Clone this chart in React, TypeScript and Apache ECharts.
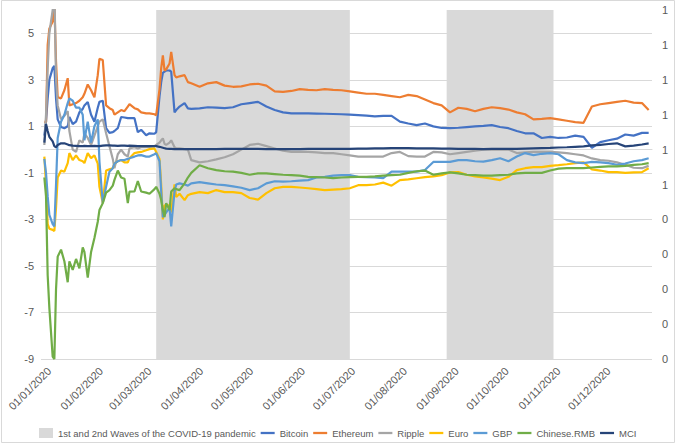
import React, { useEffect, useRef } from 'react';
import * as echarts from 'echarts';

// Day of year 2020 (0 = 1 Jan)
const days = [
  2, 3, 4, 5, 7, 8, 9, 10,
  12, 14, 16, 17, 19, 21, 23, 25, 26, 28,
  30, 32, 34, 35, 37, 39, 41, 43, 44, 46,
  48, 50, 52, 53, 56, 58, 60, 63, 65, 68,
  69, 71, 72, 73, 74, 75, 77, 78, 80, 81,
  83, 86, 88, 90,
  95, 100, 105, 110, 115, 120, 125, 130, 135, 140,
  145, 150, 155, 160, 165, 170, 175, 180, 185, 190,
  195, 200, 205, 210, 215, 220, 225, 230, 235, 240,
  245, 250, 255, 260, 265, 270, 275, 280, 285, 290,
  295, 300, 305, 310, 315, 320, 325, 330, 335, 340,
  345, 350, 355, 360, 364,
];

const bitcoin = [
  0.6, 1.2, 2.2, 3.0, 3.5, 3.6, 2.2, 1.3,
  0.97, 0.92, 1.0, 1.4, 1.1, 1.2, 1.6, 1.75, 1.9, 2.05,
  1.5, 1.2, 1.8, 2.05, 2.1, 0.92, 0.72, 0.75, 0.8, 0.92,
  1.4, 1.38, 1.35, 1.35, 1.35, 0.75, 0.85, 0.62, 0.7, 0.68,
  0.75, 2.3, 2.9, 3.3, 3.35, 3.4, 3.4, 3.35, 1.6, 1.7,
  1.85, 2.0, 1.77, 1.75,
  1.77, 1.82, 1.8, 1.78, 1.82, 1.95, 2.0, 2.05, 1.85, 1.7,
  1.6, 1.56, 1.56, 1.56, 1.55, 1.54, 1.53, 1.52, 1.5, 1.48,
  1.46, 1.43, 1.45, 1.45, 1.2, 1.12, 1.05, 1.12, 1.0, 0.93,
  0.92, 0.94, 0.97, 1.0, 1.02, 1.05, 0.97, 0.92, 0.8, 0.7,
  0.7, 0.5, 0.55, 0.5, 0.52, 0.6, 0.55, 0.08, 0.32, 0.4,
  0.47, 0.65, 0.6, 0.72, 0.72,
];

const ethereum = [
  1.2, 1.18, 4.5, 5.2, 5.5, 6.3, 3.8, 2.25,
  2.2, 2.55, 3.07, 1.9, 1.95, 2.0, 2.1, 2.25, 2.4, 2.8,
  2.55, 2.25, 3.2, 3.9, 3.85, 1.9, 1.78, 1.7, 1.5, 1.6,
  1.7, 1.65, 1.85, 1.95, 1.78, 1.73, 1.6, 1.56, 1.56, 1.52,
  1.48, 2.6, 3.5, 4.05, 3.4, 3.45, 3.7, 4.2, 3.2, 3.1,
  3.15, 3.2, 2.9, 2.85,
  2.7, 2.85, 2.9, 2.75, 2.7, 2.72, 2.8, 2.83, 2.75, 2.5,
  2.48, 2.52, 2.6, 2.57, 2.55, 2.6, 2.57, 2.55, 2.5, 2.45,
  2.4, 2.4, 2.35, 2.3, 2.25, 2.35, 2.3, 2.15, 2.0, 1.9,
  1.6, 1.8, 1.75, 1.65, 1.75, 1.82, 1.78, 1.72, 1.6, 1.52,
  1.3, 1.32, 1.35, 1.3, 1.24, 1.18, 1.15, 1.85, 1.95, 2.0,
  2.05, 2.1, 2.02, 2.0, 1.7,
];

const ripple = [
  0.2, 1.5, 3.5, 5.0, 6.0, 7.0, 3.0, 1.9,
  1.3, 1.45, 1.65, 0.8, 0.0, -0.1, 0.4, 0.3, 0.7, 0.5,
  0.2, 0.6, 1.0, 1.2, 1.3, 0.7, 0.15, -0.4, -0.8, -0.2,
  0.0, -0.2, -0.3, 0.05, 0.1, 0.05, 0.1, 0.1, 0.12, 0.15,
  0.2, 0.3, 0.4, 0.48, 0.25, 0.2, 0.3, 0.4, 0.1, 0.05,
  0.05, 0.02, 0.0, -0.45,
  -0.55, -0.5, -0.42, -0.33, -0.2, 0.0, 0.2, 0.25, 0.15, 0.05,
  -0.05, -0.1, -0.1, -0.1, -0.12, -0.15, -0.15, -0.2, -0.25, -0.3,
  -0.3, -0.3, -0.3, -0.15, -0.1, -0.28, -0.3, -0.3, -0.1, -0.12,
  -0.2, -0.15, -0.1, -0.05, 0.0, 0.0, 0.0, 0.0, -0.15, -0.12,
  -0.1, -0.1, -0.1, -0.12, -0.15, -0.2, -0.25, -0.38, -0.45, -0.48,
  -0.55, -0.65, -0.78, -0.8, -0.7,
];

const euro = [
  -0.3, -1.5, -3.2, -3.4, -3.45, -3.5, -2.5, -1.2,
  -0.9, -0.95, -0.58, -0.15, -0.45, -0.25, -0.45, -0.5, -0.58, -0.15,
  -0.37, -0.25, -0.6, -1.6, -2.3, -0.9, -0.85, -0.8, -0.6, -0.5,
  -0.45, -0.55, -0.55, -0.37, -0.15, -0.12, -0.1, -0.03, 0.02, 0.05,
  -0.1, -0.4, -1.5, -3.0, -2.4, -2.4, -2.4, -2.7, -1.5, -2.04,
  -1.9, -2.17, -1.96, -1.9,
  -1.83, -1.87, -1.74, -1.83, -1.83, -1.87, -2.08, -2.15, -1.87, -1.66,
  -1.6, -1.6, -1.63, -1.66, -1.7, -1.74, -1.72, -1.7, -1.66, -1.53,
  -1.53, -1.5, -1.42, -1.55, -1.31, -1.28, -1.23, -1.18, -1.15, -1.1,
  -0.98, -0.97, -1.08, -1.15, -1.2, -1.25, -1.31, -1.17, -0.88, -0.8,
  -0.75, -0.75, -0.7, -0.67, -0.63, -0.58, -0.55, -0.85, -0.9, -0.97,
  -0.97, -1.0, -0.98, -0.97, -0.8,
];

const gbp = [
  -0.4, -1.0, -2.0, -2.8, -3.2, -3.3, -1.5, 0.5,
  1.2, 1.5, 2.0, 2.2, 2.1, 1.8, 1.8, 1.5, 0.4, 1.2,
  0.3, 1.0, 1.3, -0.5, -2.3, -1.6, -0.95, -0.8, -0.6, -0.5,
  -0.45, -0.45, -0.4, -0.37, -0.3, -0.25, -0.24, -0.3, -0.3, -0.2,
  -0.15, -0.5, -1.8, -2.9, -2.8, -2.7, -2.5, -3.3, -1.8, -1.5,
  -1.45, -1.5, -1.55, -1.45,
  -1.4, -1.45, -1.5, -1.53, -1.58, -1.64, -1.74, -1.66, -1.45, -1.36,
  -1.38, -1.36, -1.33, -1.31, -1.2, -1.17, -1.12, -1.1, -1.1, -1.17,
  -1.18, -1.2, -1.23, -0.95, -0.95, -0.95, -0.95, -0.88, -0.53, -0.53,
  -0.53, -0.45, -0.45, -0.5, -0.52, -0.45, -0.37, -0.5, -0.3, -0.15,
  -0.24, -0.18, -0.15, -0.2, -0.45, -0.55, -0.58, -0.53, -0.55, -0.58,
  -0.65, -0.6, -0.5, -0.45, -0.37,
];

const rmb = [
  -1.2, -2.0, -5.4, -6.8, -8.9, -9.0, -6.0, -4.6,
  -4.3, -4.8, -5.7, -4.8, -5.17, -4.7, -5.1, -4.2, -4.4, -5.5,
  -4.4, -3.8, -3.1, -2.6, -2.3, -1.85, -1.74, -1.55, -1.3, -0.9,
  -1.2, -1.25, -2.3, -1.81, -1.8, -1.35, -1.8, -1.85, -1.9, -1.7,
  -1.6, -1.9, -2.17, -2.6, -2.9, -2.3, -2.6, -1.8, -1.66, -1.7,
  -1.74, -1.45, -1.2, -1.0,
  -0.67, -0.8, -0.88, -0.93, -0.95, -1.0, -1.08, -1.02, -1.02, -1.05,
  -1.08, -1.1, -1.12, -1.17, -1.18, -1.2, -1.23, -1.2, -1.18, -1.17,
  -1.17, -1.15, -1.12, -1.1, -1.08, -1.0, -0.93, -0.9, -1.08, -1.02,
  -0.98, -1.02, -1.08, -1.1, -1.12, -1.12, -1.1, -1.08, -1.02, -1.0,
  -1.0, -1.0, -0.9, -0.82, -0.8, -0.8, -0.8, -0.77, -0.74, -0.72,
  -0.72, -0.7, -0.66, -0.63, -0.58,
];

const mci = [
  0.3, 1.1, 0.8, 0.55, 0.35, 0.15, 0.1, 0.2,
  0.27, 0.27, 0.22, 0.19, 0.17, 0.16, 0.15, 0.15, 0.16, 0.15,
  0.15, 0.16, 0.15, 0.15, 0.17, 0.18, 0.18, 0.17, 0.17, 0.16,
  0.17, 0.17, 0.16, 0.17, 0.16, 0.15, 0.15, 0.15, 0.15, 0.15,
  0.15, 0.12, 0.1, 0.08, 0.06, 0.04, 0.03, 0.03, 0.02, 0.02,
  0.02, 0.02, 0.02, 0.02,
  0.02, 0.02, 0.02, 0.03, 0.03, 0.03, 0.03, 0.03, 0.02, 0.02,
  0.02, 0.02, 0.02, 0.03, 0.03, 0.03, 0.03, 0.03, 0.03, 0.04,
  0.04, 0.05, 0.05, 0.06, 0.06, 0.06, 0.05, 0.05, 0.05, 0.04,
  0.04, 0.03, 0.03, 0.03, 0.02, 0.03, 0.03, 0.03, 0.03, 0.04,
  0.05, 0.06, 0.07, 0.09, 0.1, 0.12, 0.14, 0.18, 0.2, 0.24,
  0.27, 0.14, 0.17, 0.22, 0.27,
];

// COVID-19 waves, [start day, end day]
const waveRanges = [
  [69, 185],
  [243, 307],
];

const monthLabels = [
  '01/01/2020', '01/02/2020', '01/03/2020', '01/04/2020', '01/05/2020', '01/06/2020',
  '01/07/2020', '01/08/2020', '01/09/2020', '01/10/2020', '01/11/2020', '01/12/2020',
];
const monthStartDays = [0, 31, 60, 91, 121, 152, 182, 213, 244, 274, 305, 335];

const WAVE_NAME = '1st and 2nd Waves of the COVID-19 pandemic';
const LABEL_SHIFT = 5; // layout: visual offset of rotated labels
const FONT = "'Liberation Sans', Arial, sans-serif";
const TEXT = '#595959';
const LINE_ICON = 'path://M0,0 H16 V2.6 H0 Z';

const lineSeries = [
  { name: 'Bitcoin', data: bitcoin, color: '#4472C4' },
  { name: 'Ethereum', data: ethereum, color: '#ED7D31' },
  { name: 'Ripple', data: ripple, color: '#A5A5A5' },
  { name: 'Euro', data: euro, color: '#FFC000' },
  { name: 'GBP', data: gbp, color: '#5B9BD5' },
  { name: 'Chinese.RMB', data: rmb, color: '#70AD47' },
  { name: 'MCI', data: mci, color: '#264478' },
];

export default function App() {
  const ref = useRef<HTMLDivElement>(null);
  useEffect(() => {
    if (!ref.current) return;
    const chart = echarts.init(ref.current, undefined, { renderer: 'svg' });
    const labelValues = monthStartDays.map((d) => d + LABEL_SHIFT);
    chart.setOption({
      animation: false,
      backgroundColor: '#ffffff',
      textStyle: { fontFamily: FONT },
      grid: {
        left: 41, right: 26, top: 10, bottom: 86,
        containLabel: false, outerBoundsMode: 'none',
      },
      graphic: [
        {
          type: 'rect', silent: true,
          shape: { x: 1.5, y: 0.5, width: 673, height: 442 },
          style: { fill: 'none', stroke: '#D9D9D9', lineWidth: 1 },
          z: -10,
        },
      ],
      legend: {
        left: 34, top: 423, padding: 5, itemGap: 5, itemWidth: 14, itemHeight: 10,
        textStyle: { fontSize: 9.5, color: TEXT, fontFamily: FONT },
        data: [
          { name: WAVE_NAME, icon: 'rect', itemStyle: { color: '#D9D9D9' } },
          ...lineSeries.map((s) => ({ name: s.name, icon: LINE_ICON, itemStyle: { color: s.color } })),
        ],
      },
      xAxis: {
        type: 'value', min: 0, max: 366,
        axisLine: { show: true, lineStyle: { color: '#D9D9D9', width: 1 } },
        axisTick: { show: false },
        splitLine: { show: false },
        axisLabel: {
          customValues: labelValues,
          rotate: 45, margin: 10, fontSize: 11, color: TEXT, fontFamily: FONT,
          formatter: (v: number) => {
            const i = labelValues.findIndex((x) => Math.abs(x - v) < 0.01);
            return i >= 0 ? monthLabels[i] : '';
          },
        },
      },
      yAxis: [
        {
          type: 'value', min: -9, max: 6, interval: 2,
          axisLine: { show: false }, axisTick: { show: false },
          splitLine: { show: true, showMaxLine: false, lineStyle: { color: '#D9D9D9', width: 1 } },
          axisLabel: { showMaxLabel: false, margin: 7, fontSize: 11, color: TEXT, fontFamily: FONT },
        },
        {
          type: 'value', min: 0, max: 1, interval: 0.1,
          axisLine: { show: false }, axisTick: { show: false },
          splitLine: { show: false },
          axisLabel: {
            margin: 10, fontSize: 11, color: TEXT, fontFamily: FONT,
            formatter: (v: number) => String(Math.round(v)),
          },
        },
      ],
      series: [
        {
          name: WAVE_NAME,
          type: 'custom',
          xAxisIndex: 0, yAxisIndex: 1,
          data: waveRanges,
          encode: { x: [0, 1] },
          itemStyle: { color: '#D9D9D9' },
          z: 1,
          renderItem: (_p: any, api: any) => {
            const a = api.coord([api.value(0), 1]);
            const b = api.coord([api.value(1), 0]);
            return {
              type: 'rect',
              shape: { x: a[0], y: a[1], width: b[0] - a[0], height: b[1] - a[1] },
              style: { fill: '#D9D9D9' },
            };
          },
        },
        ...lineSeries.map((s, k) => ({
          name: s.name,
          type: 'line',
          xAxisIndex: 0, yAxisIndex: 0,
          data: days.map((d, i) => [d, s.data[i]]),
          showSymbol: false, symbol: 'none',
          clip: true,
          color: s.color,
          lineStyle: { color: s.color, width: 2.2 },
          z: 2 + k,
        })),
      ],
    });
    return () => chart.dispose();
  }, []);
  return (
    <div
      ref={ref}
      style={{ position: 'fixed', left: 0, top: 0, width: 678, height: 445 }}
    />
  );
}
